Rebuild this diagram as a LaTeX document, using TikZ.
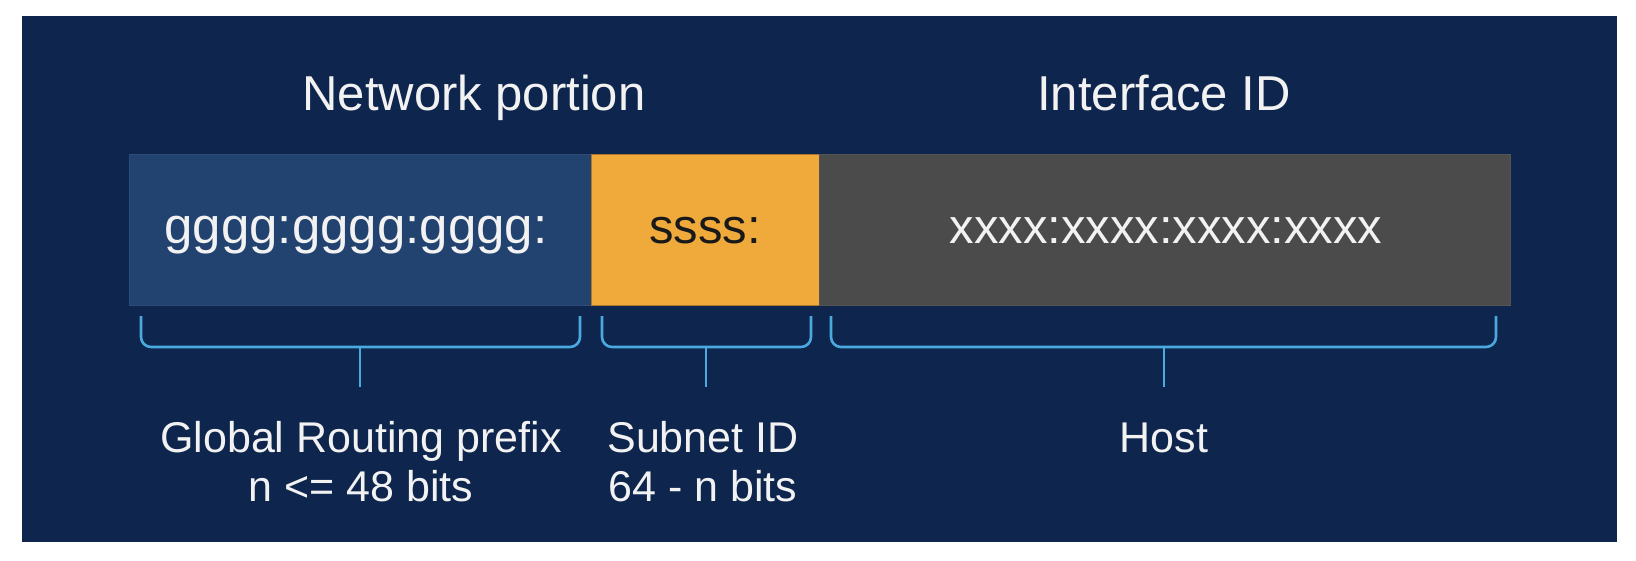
\documentclass[tikz,border=0pt]{standalone}
\usepackage{fontspec}
\setmainfont{Liberation Sans}
\definecolor{navy}{RGB}{14,37,78}
\definecolor{barblue}{RGB}{34,66,111}
\definecolor{baryellow}{RGB}{240,170,60}
\definecolor{yellowedge}{RGB}{170,120,40}
\definecolor{bargray}{RGB}{75,75,75}
\definecolor{bracecol}{RGB}{74,169,222}
\definecolor{txtwhite}{RGB}{242,242,242}
\begin{document}
\begin{tikzpicture}[x=1pt,y=-1pt,
  seg/.style={rectangle,inner sep=0pt,anchor=north west,minimum height=151pt},
  title/.style={anchor=base,text=txtwhite,inner sep=0pt,font=\fontsize{49}{58}\selectfont},
  bartext/.style={anchor=base,inner sep=0pt,font=\fontsize{49}{58}\selectfont},
  label/.style={anchor=base,text=txtwhite,inner sep=0pt,font=\fontsize{43}{50}\selectfont},
  bracket/.style={draw=bracecol,line width=2.6pt,rounded corners=10pt},
  stem/.style={draw=bracecol,line width=2.6pt}]
\useasboundingbox (0,0) rectangle (1636,560);
\fill[white] (0,0) rectangle (1636,560);
\fill[navy] (22,16) rectangle (1617,542);
% bar segments
\node[seg,fill=barblue,draw=barblue!95!white,line width=0.5pt,minimum width=462pt] (blue) at (129,154) {};
\node[seg,fill=baryellow,draw=yellowedge,line width=0.8pt,minimum width=228pt] (sub) at (591,154) {};
\node[seg,fill=bargray,draw=bargray!95!white,line width=0.5pt,minimum width=691pt] (host) at (819,154) {};
% titles
\node[title] (tnet) at (474,110) {Network portion};
\node[title] (tif) at (1164,110) {Interface ID};
% bar texts
\node[bartext,text=txtwhite,font=\fontsize{51}{60}\selectfont] (gtxt) at (356,243) {gggg:gggg:gggg:};
\node[bartext,text=black!90] (stxt) at (705,243) {ssss:};
\node[bartext,text=txtwhite] (xtxt) at (1166,243) {xxxx:xxxx:xxxx:xxxx};
% braces
\draw[bracket] (141,316) -- (141,347) -- (580,347) -- (580,316);
\draw[bracket] (602,316) -- (602,347) -- (811,347) -- (811,316);
\draw[bracket] (831,316) -- (831,347) -- (1496,347) -- (1496,316);
\coordinate (b1) at (360,347);
\coordinate (b2) at (706,347);
\coordinate (b3) at (1164,347);
\coordinate (e1) at (360,387);
\coordinate (e2) at (706,387);
\coordinate (e3) at (1164,387);
\draw[stem] (b1) -- (e1);
\draw[stem] (b2) -- (e2);
\draw[stem] (b3) -- (e3);
% labels
\node[label] (gr1) at (361,452) {Global Routing prefix};
\node[label] (gr2) at (361,501) {n <= 48 bits};
\node[label] (sn1) at (703,452) {Subnet ID};
\node[label] (sn2) at (703,501) {64 - n bits};
\node[label] (hl) at (1164,452) {Host};
\end{tikzpicture}
\end{document}
